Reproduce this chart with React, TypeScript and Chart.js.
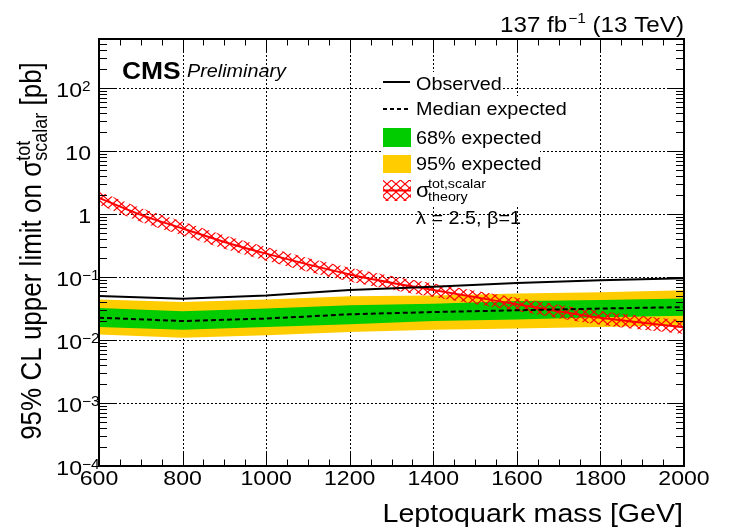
import React, { useEffect, useRef } from 'react';
import { Chart, registerables } from 'chart.js';

Chart.register(...registerables);

// ---------------- data ----------------
const masses = [600, 800, 1000, 1200, 1400, 1600, 1800, 2000];
const observed = [0.050, 0.045, 0.051, 0.062, 0.070, 0.080, 0.089, 0.096];
const expectedMedian = [0.0226, 0.0200, 0.0219, 0.0256, 0.0278, 0.0296, 0.0316, 0.0333];
const expected68Up = [0.0322, 0.0285, 0.0315, 0.0355, 0.0378, 0.0416, 0.0432, 0.0454];
const expected68Down = [0.0161, 0.0146, 0.0161, 0.0178, 0.0200, 0.0211, 0.0229, 0.0242];
const expected95Up = [0.0438, 0.0401, 0.0438, 0.0494, 0.0510, 0.0545, 0.0574, 0.0615];
const expected95Down = [0.0122, 0.0109, 0.0119, 0.0134, 0.0146, 0.0152, 0.0161, 0.0171];

const theoryMasses = [600, 700, 800, 900, 1000, 1200, 1400, 1600, 1800, 2000];
const theory = [1.8, 0.97, 0.59, 0.36, 0.235, 0.11, 0.062, 0.037, 0.0225, 0.016];
const theoryUp = [2.3, 1.25, 0.76, 0.46, 0.30, 0.14, 0.079, 0.047, 0.029, 0.0205];
const theoryDown = [1.4, 0.75, 0.46, 0.28, 0.182, 0.085, 0.048, 0.029, 0.0175, 0.0125];

const xTicks = [600, 800, 1000, 1200, 1400, 1600, 1800, 2000];
const xMinorStep = 50;
const yDecades = [-4, -3, -2, -1, 0, 1, 2];
const yTickLabels = [
  { base: '10', exp: '\u22124' },
  { base: '10', exp: '\u22123' },
  { base: '10', exp: '\u22122' },
  { base: '10', exp: '\u22121' },
  { base: '1', exp: '' },
  { base: '10', exp: '' },
  { base: '10', exp: '2' },
];
const legendLabels = ['Observed', 'Median expected', '68% expected', '95% expected'];
const xTitle = 'Leptoquark mass [GeV]';
const lumiMain = '137 fb';
const lumiSup = '\u22121';
const lumiTail = ' (13 TeV)';

// ---------------- style helpers ----------------
const SX = 1.1;
const FONT = '"Liberation Sans", Arial, Helvetica, sans-serif';
const fnt = (size: number, style = '') => `${style} ${size}px ${FONT}`;
const YELLOW = '#ffcc00';
const GREEN = '#00cc00';
const RED = '#ff0000';

function drawText(ctx: CanvasRenderingContext2D, s: string, x: number, y: number, font: string, align: CanvasTextAlign = 'left') {
  ctx.save();
  ctx.font = font;
  ctx.fillStyle = '#000';
  ctx.textAlign = align;
  ctx.textBaseline = 'alphabetic';
  ctx.translate(x, y);
  ctx.scale(SX, 1);
  ctx.fillText(s, 0, 0);
  ctx.restore();
}
function textW(ctx: CanvasRenderingContext2D, s: string, font: string) {
  ctx.save();
  ctx.font = font;
  const w = ctx.measureText(s).width * SX;
  ctx.restore();
  return w;
}

function makePattern(ctx: CanvasRenderingContext2D): CanvasPattern | string {
  const w = 9, h = 8;
  const c = document.createElement('canvas');
  c.width = w; c.height = h;
  const p = c.getContext('2d');
  if (!p) return 'rgba(255,0,0,0.3)';
  p.strokeStyle = RED;
  p.lineWidth = 1.2;
  for (let k = -1; k <= 1; k++) {
    p.beginPath();
    p.moveTo(0, k * h);
    p.lineTo(w, h + k * h);
    p.stroke();
    p.beginPath();
    p.moveTo(0, h + k * h);
    p.lineTo(w, k * h);
    p.stroke();
  }
  return ctx.createPattern(c, 'repeat') || 'rgba(255,0,0,0.3)';
}

const pts = (xs: number[], ys: number[]) => xs.map((x, i) => ({ x, y: ys[i] }));

export default function App() {
  const ref = useRef<HTMLCanvasElement>(null);

  useEffect(() => {
    const canvas = ref.current;
    if (!canvas) return;
    const ctx0 = canvas.getContext('2d');
    if (!ctx0) return;
    const pattern = makePattern(ctx0);

    const gridPlugin = {
      id: 'rootGrid',
      beforeDatasetsDraw(chart: any) {
        const { ctx, chartArea: a, scales } = chart;
        const x = scales.x, y = scales.y;
        ctx.save();
        ctx.strokeStyle = '#000';
        ctx.lineWidth = 1;
        ctx.setLineDash([2, 2]);
        xTicks.forEach((v) => {
          if (v <= x.min || v >= x.max) return;
          const px = Math.round(x.getPixelForValue(v)) + 0.5;
          ctx.beginPath(); ctx.moveTo(px, a.top); ctx.lineTo(px, a.bottom); ctx.stroke();
        });
        yDecades.forEach((d) => {
          const v = Math.pow(10, d);
          if (v <= y.min || v >= y.max) return;
          const py = Math.round(y.getPixelForValue(v)) + 0.5;
          ctx.beginPath(); ctx.moveTo(a.left, py); ctx.lineTo(a.right, py); ctx.stroke();
        });
        ctx.restore();
        // legend background (hides grid lines like the ROOT legend box)
        ctx.save();
        ctx.fillStyle = '#fff';
        ctx.fillRect(383, 72, 118, 24);
        ctx.fillRect(383, 96, 157, 109);
        ctx.restore();
      },
    };

    const framePlugin = {
      id: 'rootFrame',
      afterDatasetsDraw(chart: any) {
        const { ctx, chartArea: a, scales } = chart;
        const x = scales.x, y = scales.y;
        ctx.save();
        ctx.strokeStyle = '#000';
        ctx.setLineDash([]);
        ctx.lineWidth = 1;
        const xMajor = 13, xMinor = 6.5, yMajor = 16, yMinor = 8;
        for (let v = x.min; v <= x.max + 0.01; v += xMinorStep) {
          const isMajor = xTicks.includes(v);
          const len = isMajor ? xMajor : xMinor;
          const px = Math.round(x.getPixelForValue(v)) + 0.5;
          ctx.beginPath();
          ctx.moveTo(px, a.bottom); ctx.lineTo(px, a.bottom - len);
          ctx.moveTo(px, a.top); ctx.lineTo(px, a.top + len);
          ctx.stroke();
        }
        yDecades.forEach((d) => {
          for (let k = 1; k <= 9; k++) {
            const v = k * Math.pow(10, d);
            if (v < y.min * 0.999 || v > y.max * 1.001) continue;
            const len = k === 1 ? yMajor : yMinor;
            const py = Math.round(y.getPixelForValue(v)) + 0.5;
            ctx.beginPath();
            ctx.moveTo(a.left, py); ctx.lineTo(a.left + len, py);
            ctx.moveTo(a.right, py); ctx.lineTo(a.right - len, py);
            ctx.stroke();
          }
        });
        ctx.lineWidth = 2;
        ctx.strokeRect(a.left, a.top, a.right - a.left, a.bottom - a.top);
        ctx.restore();

        xTicks.forEach((v) => {
          drawText(ctx, String(v), x.getPixelForValue(v), a.bottom + 19, fnt(21), 'center');
        });
        yDecades.forEach((d, i) => {
          const lab = yTickLabels[i];
          const py = y.getPixelForValue(Math.pow(10, d));
          if (lab.exp) {
            drawText(ctx, lab.base, a.left - 17, py + 8.5, fnt(21), 'right');
            drawText(ctx, lab.exp, a.left - 17, py + 3, fnt(14), 'left');
          } else {
            drawText(ctx, lab.base, a.left - 8, py + 8.5, fnt(21), 'right');
          }
        });
        drawText(ctx, xTitle, a.right - 1, 522, fnt(26), 'right');

        {
          const main = fnt(26), small = fnt(18);
          const p1 = '95% CL upper limit on ', sig = '\u03c3', sub = 'scalar', sup = 'tot', p2 = ' [pb]';
          ctx.save();
          ctx.font = main;
          const w1 = ctx.measureText(p1).width, ws = ctx.measureText(sig).width, w2 = ctx.measureText(p2).width;
          ctx.font = small;
          const wsub = ctx.measureText(sub).width, wsup = ctx.measureText(sup).width;
          const total = w1 + ws + Math.max(wsub, wsup) + w2;
          ctx.translate(41, 251);
          ctx.scale(SX, 1);
          ctx.rotate(-Math.PI / 2);
          ctx.fillStyle = '#000';
          ctx.textAlign = 'left';
          ctx.textBaseline = 'alphabetic';
          let xx = -total / 2;
          ctx.font = main; ctx.fillText(p1, xx, 0); xx += w1;
          ctx.fillText(sig, xx, 0); xx += ws;
          ctx.font = small; ctx.fillText(sub, xx, 5.5); ctx.fillText(sup, xx, -10);
          xx += Math.max(wsub, wsup);
          ctx.font = main; ctx.fillText(p2, xx, 0);
          ctx.restore();
        }

        {
          const m = fnt(22), s = fnt(14);
          const wa = textW(ctx, lumiMain, m), wb = textW(ctx, lumiSup, s), wc = textW(ctx, lumiTail, m);
          const x0 = a.right - 1 - (wa + wb + wc);
          drawText(ctx, lumiMain, x0, 32, m);
          drawText(ctx, lumiSup, x0 + wa + 1, 23, s);
          drawText(ctx, lumiTail, x0 + wa + wb + 1, 32, m);
        }
        drawText(ctx, 'CMS', 122, 79, fnt(24, 'bold'));
        drawText(ctx, 'Preliminary', 187, 77, fnt(18, 'italic'));

        ctx.save();
        const lx = 383, lw = 28;
        ctx.strokeStyle = '#000';
        ctx.lineWidth = 2;
        ctx.beginPath(); ctx.moveTo(lx, 82); ctx.lineTo(lx + lw - 1, 82); ctx.stroke();
        ctx.setLineDash([4, 3]);
        ctx.beginPath(); ctx.moveTo(lx, 109); ctx.lineTo(lx + lw, 109); ctx.stroke();
        ctx.setLineDash([]);
        ctx.fillStyle = GREEN; ctx.fillRect(lx, 128, lw, 19);
        ctx.fillStyle = YELLOW; ctx.fillRect(lx, 155, lw, 18);
        ctx.fillStyle = pattern as any; ctx.fillRect(lx, 180, lw, 21);
        ctx.strokeStyle = RED; ctx.lineWidth = 2;
        ctx.beginPath(); ctx.moveTo(lx, 190.5); ctx.lineTo(lx + lw, 190.5); ctx.stroke();
        ctx.restore();
        const lf = fnt(18);
        drawText(ctx, legendLabels[0], 416, 90, lf);
        drawText(ctx, legendLabels[1], 416, 115, lf);
        drawText(ctx, legendLabels[2], 416, 144, lf);
        drawText(ctx, legendLabels[3], 416, 170, lf);
        drawText(ctx, '\u03c3', 416, 197, fnt(20));
        drawText(ctx, 'tot,scalar', 428, 188, fnt(13));
        drawText(ctx, 'theory', 428, 201, fnt(13));
        drawText(ctx, '\u03bb = 2.5, \u03b2=1', 416, 224, lf);
      },
    };

    const noPoint = { pointRadius: 0, pointHoverRadius: 0 };
    const chart = new Chart(canvas, {
      type: 'line',
      data: {
        datasets: [
          { label: '95lo', data: pts(masses, expected95Down), borderWidth: 0, borderColor: 'rgba(0,0,0,0)', fill: false, order: 9, ...noPoint },
          { label: '95% expected', data: pts(masses, expected95Up), borderWidth: 0, borderColor: 'rgba(0,0,0,0)', backgroundColor: YELLOW, fill: { target: 0 }, order: 9, ...noPoint },
          { label: '68lo', data: pts(masses, expected68Down), borderWidth: 0, borderColor: 'rgba(0,0,0,0)', fill: false, order: 7, ...noPoint },
          { label: '68% expected', data: pts(masses, expected68Up), borderWidth: 0, borderColor: 'rgba(0,0,0,0)', backgroundColor: GREEN, fill: { target: 2 }, order: 7, ...noPoint },
          { label: 'thlo', data: pts(theoryMasses, theoryDown), borderWidth: 0, borderColor: 'rgba(0,0,0,0)', fill: false, order: 5, cubicInterpolationMode: 'monotone', ...noPoint },
          { label: 'theory band', data: pts(theoryMasses, theoryUp), borderWidth: 0, borderColor: 'rgba(0,0,0,0)', backgroundColor: pattern as any, fill: { target: 4 }, order: 5, cubicInterpolationMode: 'monotone', ...noPoint },
          { label: 'theory', data: pts(theoryMasses, theory), borderWidth: 2, borderColor: RED, fill: false, order: 3, cubicInterpolationMode: 'monotone', ...noPoint },
          { label: 'Median expected', data: pts(masses, expectedMedian), borderWidth: 2, borderColor: '#000', borderDash: [5, 3], fill: false, order: 2, ...noPoint },
          { label: 'Observed', data: pts(masses, observed), borderWidth: 2, borderColor: '#000', fill: false, order: 1, ...noPoint },
        ] as any,
      },
      options: {
        animation: false,
        responsive: false,
        devicePixelRatio: 1,
        layout: { padding: { left: 99, top: 39, right: 46, bottom: 65 } },
        plugins: {
          legend: { display: false },
          tooltip: { enabled: false },
          filler: { propagate: false },
        },
        scales: {
          x: { type: 'linear', min: 600, max: 2000, display: false },
          y: { type: 'logarithmic', min: 1e-4, max: 600, display: false },
        },
      } as any,
      plugins: [gridPlugin, framePlugin],
    });
    return () => chart.destroy();
  }, []);

  return (
    <div style={{ position: 'absolute', left: 0, top: 0, width: 730, height: 531, background: '#fff' }}>
      <canvas ref={ref} width={730} height={531} style={{ display: 'block', width: 730, height: 531 }} />
    </div>
  );
}
